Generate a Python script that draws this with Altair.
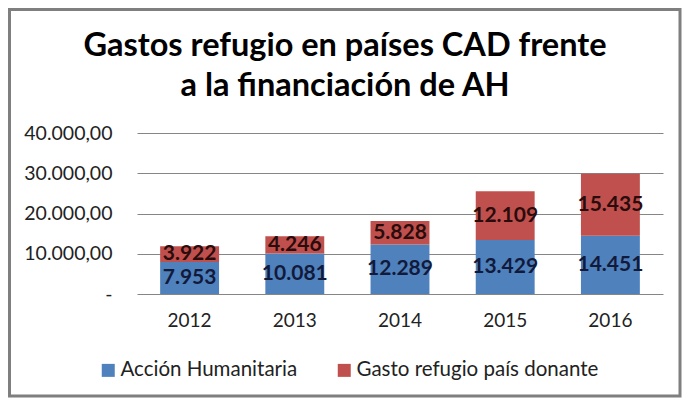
import altair as alt
import pandas as pd

years = ["2012", "2013", "2014", "2015", "2016"]
accion_humanitaria = [7953, 10081, 12289, 13429, 14451]
gasto_refugio = [3922, 4246, 5828, 12109, 15435]
series = ["Acción Humanitaria", "Gasto refugio país donante"]
colors = ["#4F81BD", "#C0504D"]
label_colors = ["#121a3c", "#2a0c0c"]
y_ticks = [0, 10000, 20000, 30000, 40000]

rows = []
for i, y in enumerate(years):
    rows.append({"year": y, "serie": series[0], "value": accion_humanitaria[i], "ord": 0})
    rows.append({"year": y, "serie": series[1], "value": gasto_refugio[i], "ord": 1})
df = pd.DataFrame(rows)

FONT = "Lato"
PW, PH = 526, 161
PL, PT = 129, 125
TOTAL_W, TOTAL_H = 674, 390

base = alt.Chart(df)

x_enc = alt.X(
    "year:N",
    title=None,
    scale=alt.Scale(paddingInner=0.44, paddingOuter=0.22),
    axis=alt.Axis(labelAngle=0, ticks=False, domain=False, labelFontSize=19,
                  labelFont=FONT, labelColor="#222222", labelPadding=17),
)

bars = base.mark_bar().encode(
    x=x_enc,
    y=alt.Y(
        "value:Q",
        stack=True,
        title=None,
        scale=alt.Scale(domain=[0, 40000], nice=False),
        axis=alt.Axis(
            values=y_ticks,
            ticks=False,
            domain=False,
            grid=True,
            gridColor="#868686",
            gridWidth=1,
            labelFontSize=19.5,
            labelFont=FONT,
            labelColor="#222222",
            labelPadding=25,
            labelExpr="datum.value == 0 ? '-\u00a0\u00a0\u00a0' : replace(replace(replace(format(datum.value, ',.2f'), ',', '#'), '.', ','), '#', '.')",
        ),
    ),
    color=alt.Color(
        "serie:N",
        scale=alt.Scale(domain=series, range=colors),
        legend=alt.Legend(
            title=None,
            orient="none",
            legendX=-39,
            legendY=227,
            direction="horizontal",
            symbolType="square",
            symbolSize=169,
            symbolStrokeWidth=0,
            labelFontSize=20.5,
            labelFont=FONT,
            labelColor="#222222",
            labelLimit=400,
            columnPadding=36,
            labelOffset=2,
        ),
    ),
    order=alt.Order("ord:Q"),
)

labels = base.transform_stack(
    stack="value",
    groupby=["year"],
    as_=["v0", "v1"],
    sort=[alt.SortField("ord", order="ascending")],
).transform_calculate(
    mid="(datum.v0 + datum.v1) / 2",
    label="replace(format(datum.value, ','), ',', '.')",
).mark_text(fontSize=21, fontWeight="bold", font=FONT, baseline="middle").encode(
    x=alt.X("year:N"),
    y=alt.Y("mid:Q"),
    text="label:N",
    color=alt.Color("serie:N", scale=alt.Scale(domain=series, range=label_colors), legend=None),
)

border = alt.Chart(pd.DataFrame({"a": [0]})).mark_rect(
    fill=None, stroke="#7f7f7f", strokeWidth=3
).encode(
    x=alt.value(-PL + 1.5),
    x2=alt.value(TOTAL_W - PL - 2),
    y=alt.value(-PT + 1.5),
    y2=alt.value(TOTAL_H - PT - 2),
)

chart = alt.layer(bars, labels, border).resolve_scale(color="independent").properties(
    width=PW,
    height=PH,
    autosize=alt.AutoSizeParams(type="none"),
    padding={"left": PL, "top": PT, "right": TOTAL_W - PL - PW, "bottom": TOTAL_H - PT - PH},
    title=alt.TitleParams(
        text=["Gastos refugio en países CAD frente", "a la financiación de AH"],
        fontSize=32.5,
        font=FONT,
        fontWeight="bold",
        lineHeight=40,
        anchor="middle",
        dx=-55,
        dy=120,
        offset=26,
        color="#000000",
    ),
).configure_view(stroke=None)

chart.save("out.html", embed_options={"renderer": "svg", "actions": False})
